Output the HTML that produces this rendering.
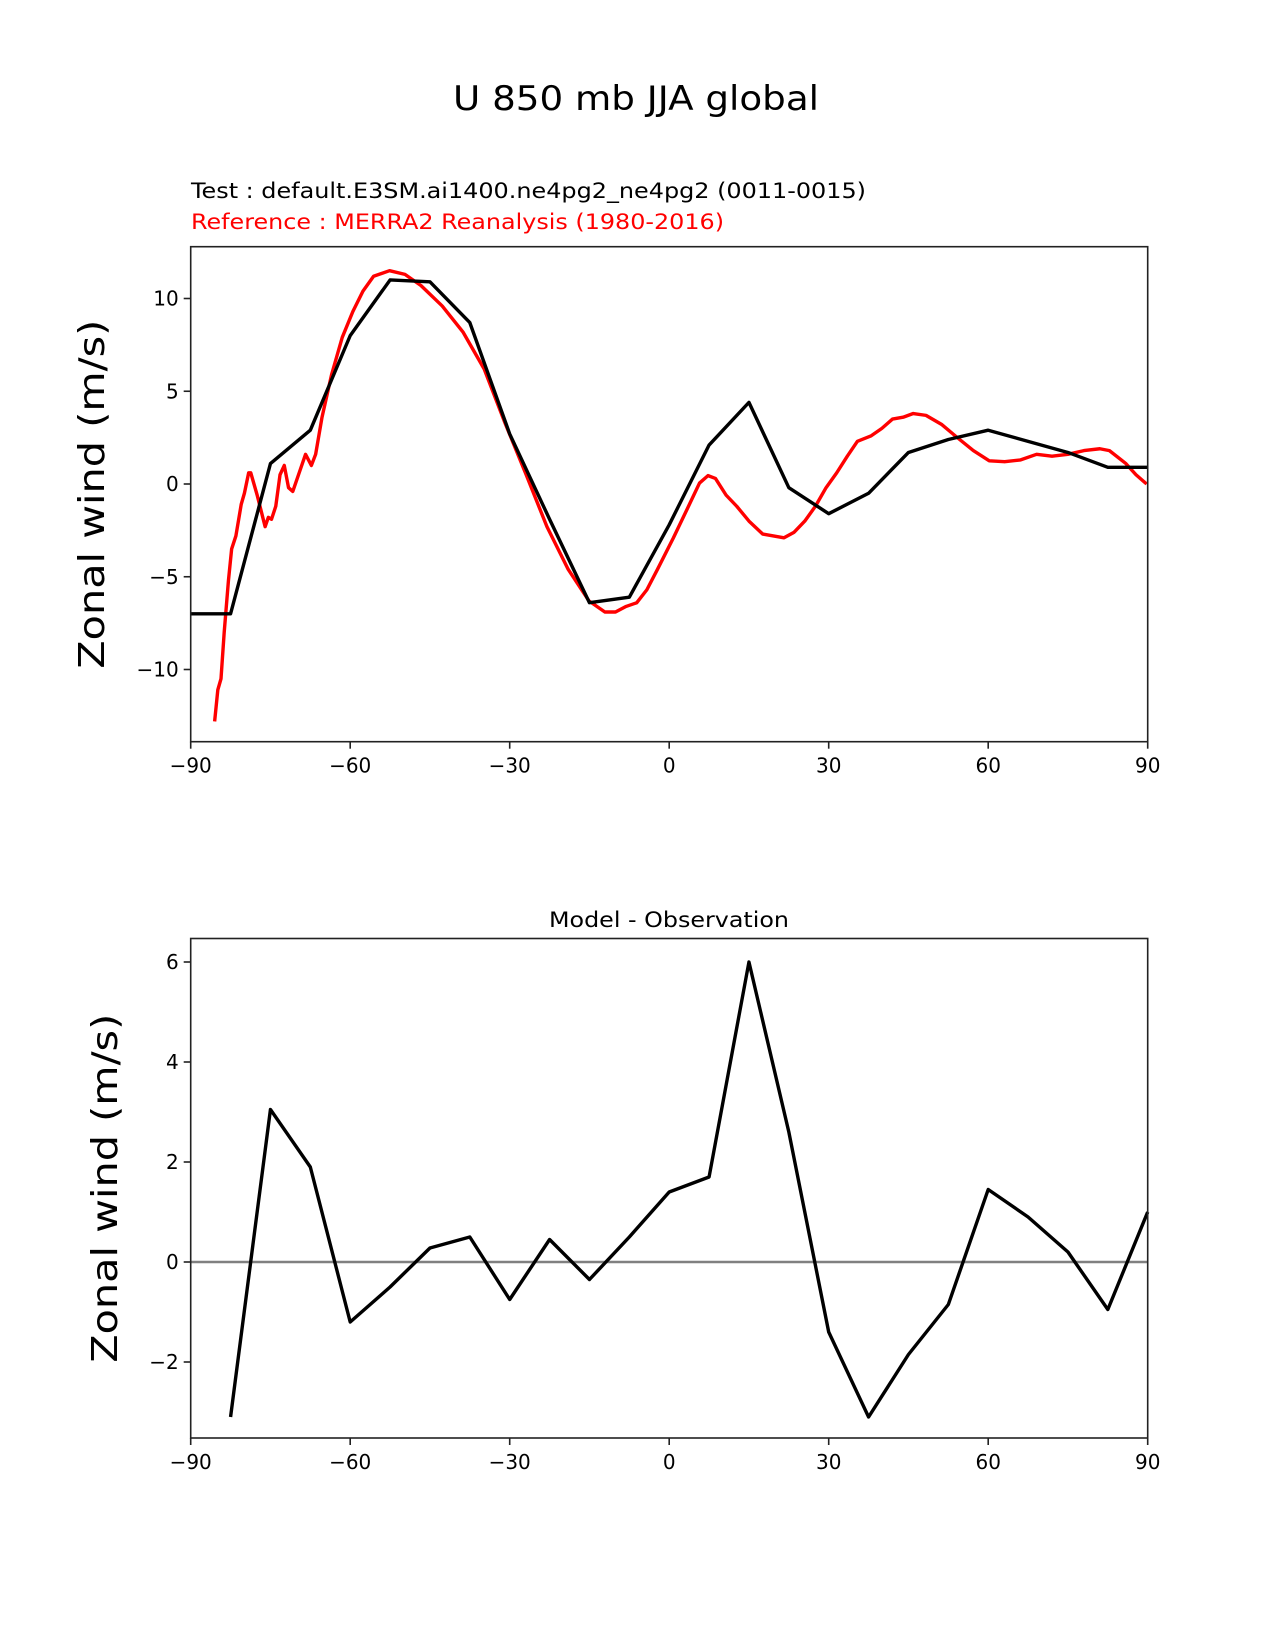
<!DOCTYPE html>
<html><head><meta charset="utf-8">
<style>
html,body{margin:0;padding:0;background:#fff;}
svg{display:block;}
text{font-family:"DejaVu Sans","Liberation Sans",sans-serif;}
</style></head>
<body>
<svg id="fig" width="1275" height="1650" viewBox="0 0 1275 1650" xmlns="http://www.w3.org/2000/svg">
<text x="636" y="110" font-size="34" text-anchor="middle" textLength="366" lengthAdjust="spacingAndGlyphs">U 850 mb JJA global</text>
<text x="191" y="198" font-size="21" textLength="675" lengthAdjust="spacingAndGlyphs">Test : default.E3SM.ai1400.ne4pg2_ne4pg2 (0011-0015)</text>
<text x="191" y="229" font-size="21" fill="#ff0000" textLength="533" lengthAdjust="spacingAndGlyphs">Reference : MERRA2 Reanalysis (1980-2016)</text>
<text x="669" y="927" font-size="21" text-anchor="middle" textLength="240" lengthAdjust="spacingAndGlyphs">Model - Observation</text>
<g id="top"></g>
<g id="bot"></g>
</svg>
<script>
const lats = [-90,-82.5,-75,-67.5,-60,-52.5,-45,-37.5,-30,-22.5,-15,-7.5,0,7.5,15,22.5,30,37.5,45,52.5,60,67.5,75,82.5,90];
const testVals = [-7,-7,1.1,2.9,8.0,11.0,10.9,8.7,2.7,-1.9,-6.4,-6.1,-2.2,2.1,4.4,-0.2,-1.6,-0.5,1.7,2.4,2.9,2.3,1.7,0.9,0.9];
const refLats = [-85.5,-84.9,-84.3,-83.7,-82.9,-82.3,-81.5,-80.5,-79.9,-79.1,-78.7,-77.5,-76.0,-75.4,-74.8,-74.0,-73.2,-72.4,-71.6,-70.8,-69.6,-68.4,-67.3,-66.5,-65.3,-63.5,-61.5,-59.5,-57.6,-55.6,-52.6,-49.7,-46.7,-42.7,-38.8,-34.8,-30.9,-26.9,-23.0,-19.0,-15.1,-12.1,-10.1,-8.1,-6.1,-4.2,-2.2,0.8,3.8,5.7,7.3,8.7,10.7,12.7,15.0,17.6,19.6,21.6,23.5,25.5,27.5,29.5,31.5,33.5,35.4,38.0,40.0,42.0,44.0,45.9,48.3,51.3,54.2,57.2,60.2,63.1,66.1,69.1,72.0,75.0,78.0,81.0,82.8,85.9,87.8,89.8];
const refVals = [-12.8,-11.1,-10.5,-8.0,-5.2,-3.5,-2.8,-1.1,-0.5,0.6,0.6,-0.6,-2.3,-1.8,-1.9,-1.2,0.5,1.0,-0.2,-0.4,0.6,1.6,1.0,1.6,3.6,5.9,7.9,9.3,10.4,11.2,11.5,11.3,10.7,9.6,8.2,6.2,3.3,0.5,-2.3,-4.6,-6.3,-6.9,-6.9,-6.6,-6.4,-5.7,-4.6,-2.9,-1.1,0.05,0.45,0.3,-0.6,-1.2,-2.0,-2.7,-2.8,-2.9,-2.6,-2.0,-1.2,-0.2,0.6,1.5,2.3,2.6,3.0,3.5,3.6,3.8,3.7,3.2,2.5,1.8,1.25,1.2,1.3,1.6,1.5,1.6,1.8,1.9,1.8,1.1,0.5,0.0];
const diffLats = [-82.5,-75,-67.5,-60,-52.5,-45,-37.5,-30,-22.5,-15,-7.5,0,7.5,15,22.5,30,37.5,45,52.5,60,67.5,75,82.5,90];
const diffVals = [-3.1,3.05,1.9,-1.2,-0.5,0.28,0.5,-0.75,0.45,-0.35,0.5,1.4,1.7,6.0,2.6,-1.4,-3.1,-1.85,-0.85,1.45,0.9,0.2,-0.95,1.0];
const xTicks = [-90,-60,-30,0,30,60,90];
const xTickLabels = ["\u221290","\u221260","\u221230","0","30","60","90"];
const topYTicks = [-10,-5,0,5,10];
const topYLabels = ["\u221210","\u22125","0","5","10"];
const botYTicks = [-2,0,2,4,6];
const botYLabels = ["\u22122","0","2","4","6"];

const NS = "http://www.w3.org/2000/svg";
const L = 190.7, R = 1147.7;
function X(lat){ return L + (lat + 90) / 180 * (R - L); }
function mk(tag, attrs, parent){
  const e = document.createElementNS(NS, tag);
  for (const k in attrs) e.setAttribute(k, attrs[k]);
  parent.appendChild(e); return e;
}
function drawAxes(g, top, bottom, Y, yTicks, yLabels, labelY){
  xTicks.forEach((t, i) => {
    const ln = mk('line', {x1:X(t), x2:X(t), y1:bottom, y2:bottom+7, stroke:'#222', 'stroke-width':1.6}, g);
    
    
    const tx = mk('text', {x:X(t), y:bottom+31, 'font-size':20, 'text-anchor':'middle'}, g);
    tx.textContent = xTickLabels[i];
    
    
  });
  yTicks.forEach((t, i) => {
    const ln = mk('line', {x1:L-7, x2:L, y1:Y(t), y2:Y(t), stroke:'#222', 'stroke-width':1.6}, g);
    
    
    const tx = mk('text', {x:L-12, y:Y(t)+7, 'font-size':20, 'text-anchor':'end'}, g);
    tx.textContent = yLabels[i];
    
    
  });
  const cy = (top + bottom) / 2;
  const yl = mk('text', {x:0, y:0, 'font-size':36, 'text-anchor':'middle', transform:`translate(${labelY},${cy}) rotate(-90)`, textLength:349, lengthAdjust:'spacingAndGlyphs'}, g);
  yl.textContent = 'Zonal wind (m/s)';
  
  
}
function line(g, xs, ys, Y, color, w, name){
  const d = xs.map((x, i) => (i ? 'L' : 'M') + X(x).toFixed(2) + ' ' + Y(ys[i]).toFixed(2)).join(' ');
  const p = mk('path', {d:d, fill:'none', stroke:color, 'stroke-width':w, 'stroke-linejoin':'round'}, g);
  
  
}
function frame(g, top, bottom){
  const r = mk('rect', {x:L, y:top, width:R-L, height:bottom-top, fill:'none', stroke:'#222', 'stroke-width':1.6}, g);
  
  
}
// top panel
const gT = document.getElementById('top');
const T1 = 246.7, B1 = 741.7;
const Y1 = v => 484 - v * 18.55;
line(gT, refLats, refVals, Y1, '#ff0000', 3.4, 'reference-line');
line(gT, lats, testVals, Y1, '#000', 3.4, 'test-line');
frame(gT, T1, B1);
drawAxes(gT, T1, B1, Y1, topYTicks, topYLabels, 104);
// bottom panel
const gB = document.getElementById('bot');
const T2 = 938.5, B2 = 1438;
const Y2 = v => 1262 - v * 50;
const z = mk('line', {x1:L, x2:R, y1:Y2(0), y2:Y2(0), stroke:'#808080', 'stroke-width':2.6}, gB);


line(gB, diffLats, diffVals, Y2, '#000', 3.4, 'difference-line');
frame(gB, T2, B2);
drawAxes(gB, T2, B2, Y2, botYTicks, botYLabels, 117);
</script>
</body></html>
